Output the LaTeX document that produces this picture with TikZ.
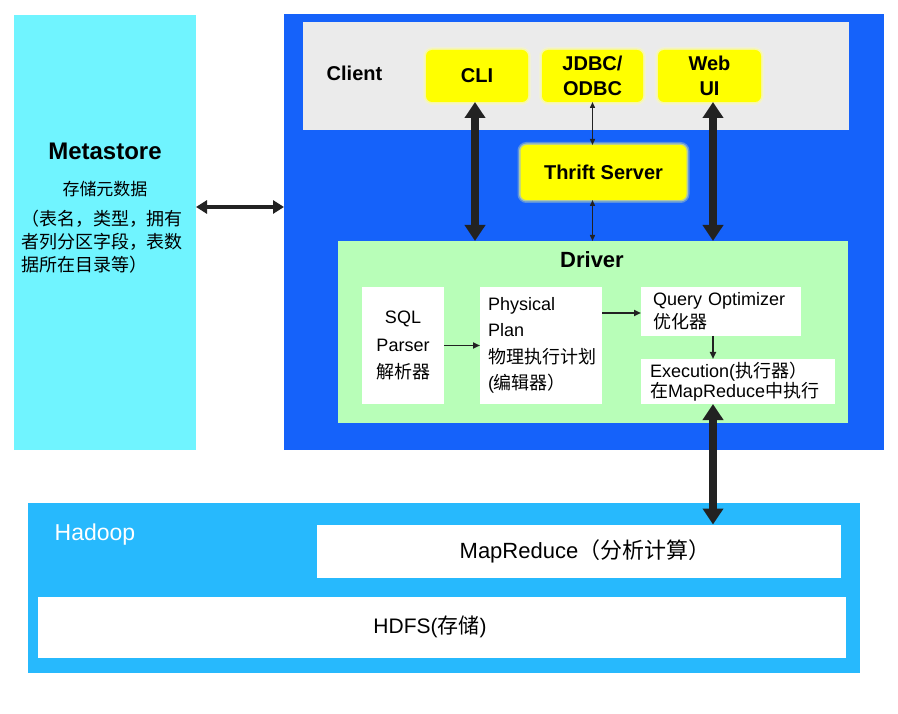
\documentclass[tikz,border=0pt]{standalone}
\usepackage{fontspec}
\setmainfont{Liberation Sans}
\newfontfamily\cjk{Noto Sans CJK SC}
\newcommand\zh[1]{{\cjk #1}}
\newcommand\fs[2]{\fontsize{#1}{#2}\selectfont}
\usetikzlibrary{arrows.meta}
\definecolor{metac}{HTML}{70F4FF}
\definecolor{hivec}{HTML}{1562FA}
\definecolor{clientc}{HTML}{EBEBEB}
\definecolor{yel}{HTML}{FFFF00}
\definecolor{drvc}{HTML}{B8FEB8}
\definecolor{hadc}{HTML}{27B9FD}
\definecolor{arr}{HTML}{222222}
\tikzset{
  area/.style={inner sep=0pt, outer sep=0pt},
  ybox/.style={area, fill=yel, rounded corners=6pt, align=center,
    font=\bfseries\fs{20}{25},
    preaction={draw=yel!35!white, line width=6pt, draw opacity=.3},
    preaction={draw=yel!55!white, line width=3pt, draw opacity=.5}},
  wbox/.style={area, fill=white, font=\fs{18}{21}},
  bigarrow/.style={draw=arr, line width=8pt,
    {Triangle[length=16pt,width=20pt]}-{Triangle[length=16pt,width=20pt]}},
  medarrow/.style={draw=arr, line width=4pt,
    {Triangle[length=11pt,width=13pt]}-{Triangle[length=11pt,width=13pt]}},
  thinboth/.style={draw=arr, line width=1.4pt,
    {Triangle[length=6pt,width=5pt]}-{Triangle[length=6pt,width=5pt]}},
  thinarrow/.style={draw=arr, line width=1.8pt, -{Triangle[length=7pt,width=6pt]}},
}
\begin{document}
\begin{tikzpicture}[x=1pt,y=-1pt]
\useasboundingbox (0,0) rectangle (898,714);
\fill[white] (0,0) rectangle (898,714);

% Metastore
\node[area, fill=metac, minimum width=182pt, minimum height=435pt] (meta) at (105,232.5) {};
\node[font=\bfseries\fs{24}{27}] (metat) at (105,151) {Metastore};
\node[font=\fs{17}{20}] (metas) at (105,189) {\zh{存储元数据}};
\node[area, anchor=north west, align=left, font=\fs{18}{23}] (metad) at (21,210)
  {\zh{（表名，类型，拥有}\\\zh{者列分区字段，表数}\\\zh{据所在目录等）}};

% Hive
\node[area, fill=hivec, minimum width=600pt, minimum height=436pt] (hive) at (584,232) {};
\node[area, fill=clientc, minimum width=546pt, minimum height=108pt] (client) at (576,76) {};
\node[font=\bfseries\fs{20}{24}] (clientt) at (354.5,73) {Client};
\node[ybox, minimum width=102pt, minimum height=52pt] (cli) at (477,76) {CLI};
\node[ybox, minimum width=101pt, minimum height=52pt] (jdbc) at (592.5,76) {JDBC/\\ODBC};
\node[ybox, minimum width=103pt, minimum height=52pt] (web) at (709.5,76) {Web\\UI};
\node[ybox, minimum width=166pt, minimum height=55pt] (thrift) at (603.5,172.5) {Thrift Server};

% Driver
\node[area, fill=drvc, minimum width=510pt, minimum height=182pt] (driver) at (593,332) {};
\node[font=\bfseries\fs{22}{26}] (drivert) at (592,260) {Driver};
\node[wbox, minimum width=82pt, minimum height=117pt, align=center, font=\fs{18}{27.5}] (sql) at (403,345.5)
  {SQL\\Parser\\\zh{解析器}};
\node[wbox, text width=106pt, inner xsep=8pt, minimum height=117pt, align=left, font=\fs{18}{26.5}] (phys) at (541,345.5)
  {Physical\\Plan\\\zh{物理执行计划}\\(\zh{编辑器）}};
\node[wbox, text width=136pt, inner xsep=12pt, minimum height=49pt, align=left, font=\fs{18}{23}] (query) at (721,311.5)
  {Query Optimizer\\\zh{优化器}};
\node[wbox, text width=176pt, inner xsep=9pt, minimum height=45pt, align=left, font=\fs{18}{20.5}] (exec) at (738,381.5)
  {Execution(\zh{执行器）}\\\zh{在}MapReduce\zh{中执行}};

% Hadoop
\node[area, fill=hadc, minimum width=832pt, minimum height=170pt] (hadoop) at (444,588) {};
\node[font=\fs{23}{27}, text=white] (hadoopt) at (95,535) {Hadoop};
\node[area, fill=white, minimum width=524pt, minimum height=53pt] (mr) at (579,551) {};
\node[font=\fs{22}{26}] (mrt) at (585,551) {MapReduce\zh{（分析计算）}};
\node[area, fill=white, minimum width=808pt, minimum height=61pt] (hdfs) at (442,627) {};
\node[font=\fs{21}{25}] (hdfst) at (430,627) {HDFS(\zh{存储})};

% connectors
\coordinate (col) at (713,0);
\coordinate (ma) at (196,207);
\draw[medarrow] (ma) -- (ma -| hive.west);
\draw[bigarrow] (cli.south -| 475,0) -- (driver.north -| 475,0);
\draw[bigarrow] (web.south -| col) -- (driver.north -| col);
\draw[thinboth] (jdbc.south) -- (jdbc.south |- thrift.north);
\draw[thinboth] (thrift.south -| jdbc.south) -- (jdbc.south |- driver.north);
\draw[thinarrow] (sql.east) -- (phys.west);
\draw[thinarrow] (phys.east |- 0,313) -- (query.west |- 0,313);
\draw[thinarrow] (query.south -| col) -- (exec.north -| col);
\draw[bigarrow] (exec.south -| col) -- (mr.north -| col);
\end{tikzpicture}
\end{document}
